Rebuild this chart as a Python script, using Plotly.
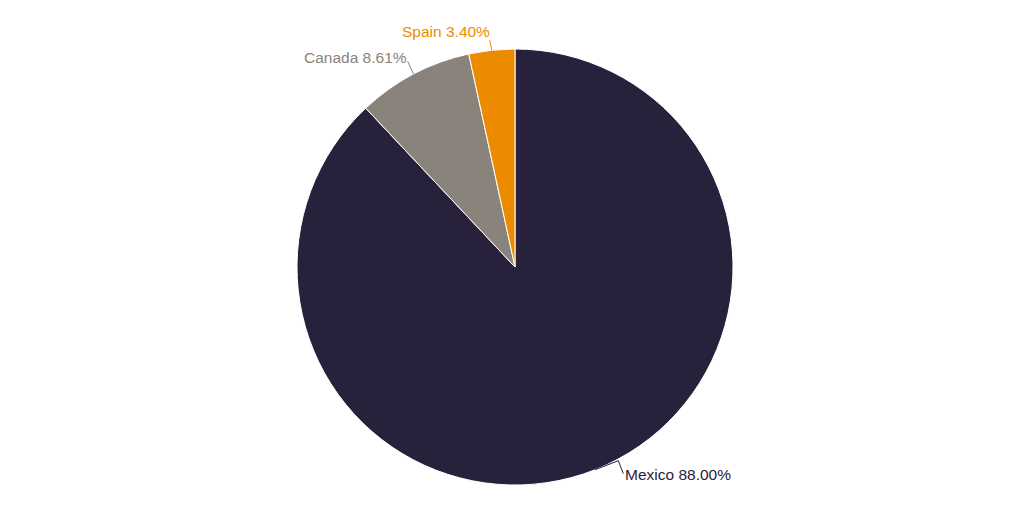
import math
import plotly.graph_objects as go

# ---- data ----
countries = ["Mexico", "Canada", "Spain"]
shares = [88.00, 8.61, 3.40]

# ---- styles ----
colors = ["#27213c", "#8a837b", "#ec8b00"]
W, H = 1024, 512
M = dict(l=0, r=10, t=41, b=35)
PW, PH = W - M["l"] - M["r"], H - M["t"] - M["b"]
CX, CY = M["l"] + PW / 2, M["t"] + PH / 2
R = min(PW, PH) / 2
# leader line bends (pixel offsets from the slice-edge point) and label anchor side
leader_style = {
    "Mexico": dict(pts=[(23, -9), (28, 4)], xanchor="left", dx=0, dy=1),
    "Canada": dict(pts=[(-6, -13)], xanchor="right", dx=1, dy=-4),
    "Spain": dict(pts=[(-2, -10)], xanchor="right", dx=2, dy=-9),
}


def to_paper(px, py):
    return (px - M["l"]) / PW, (H - M["b"] - py) / PH


fig = go.Figure(
    go.Pie(
        labels=countries,
        values=shares,
        sort=False,
        direction="clockwise",
        rotation=0,
        marker=dict(colors=colors, line=dict(color="#ffffff", width=1)),
        textinfo="none",
        hoverinfo="label+percent",
        showlegend=False,
    )
)

total = sum(shares)
cum = 0.0
annotations, shapes = [], []
for name, val, col in zip(countries, shares, colors):
    mid = (cum + val / 2) / total * 2 * math.pi
    cum += val
    ex, ey = CX + R * math.sin(mid), CY - R * math.cos(mid)
    st = leader_style[name]
    pts = [(ex, ey)] + [(ex + ox, ey + oy) for ox, oy in st["pts"]]
    path = "M " + " L ".join(
        f"{to_paper(px, py)[0]:.5f},{to_paper(px, py)[1]:.5f}" for px, py in pts
    )
    shapes.append(dict(type="path", xref="paper", yref="paper", path=path,
                       line=dict(color=col, width=1)))
    lx, ly = pts[-1][0] + st["dx"], pts[-1][1] + st["dy"]
    ax_, ay_ = to_paper(lx, ly)
    annotations.append(dict(
        x=ax_, y=ay_, xref="paper", yref="paper",
        text=f"{name} {val:.2f}%", showarrow=False,
        xanchor=st["xanchor"], yanchor="middle",
        font=dict(color=col, size=15.5, family="Liberation Sans, Arial, sans-serif"),
    ))

fig.update_layout(
    width=W, height=H,
    margin=M,
    paper_bgcolor="#ffffff",
    plot_bgcolor="#ffffff",
    annotations=annotations,
    shapes=shapes,
)

fig.write_html("out.html")
